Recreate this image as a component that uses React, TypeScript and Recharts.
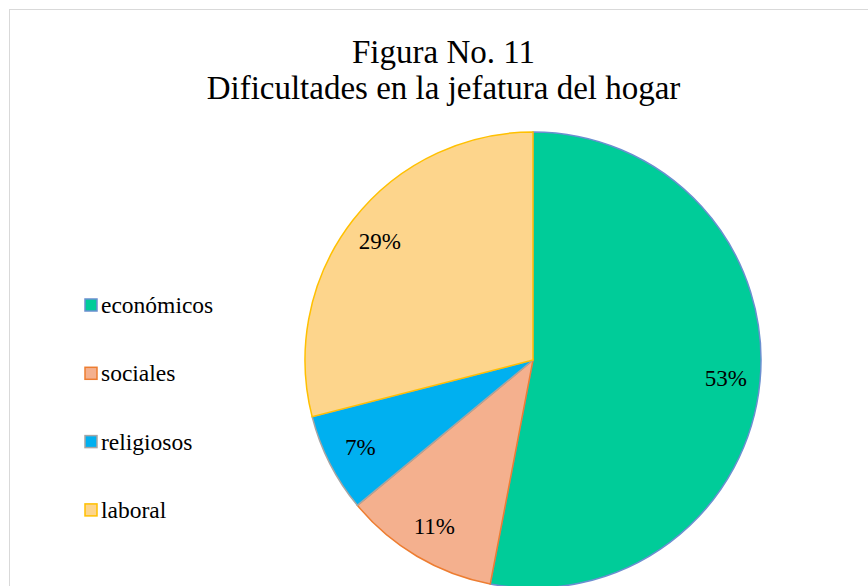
import React from "react";
import { PieChart, Pie, Cell, Legend } from "recharts";

const categories = ["económicos", "sociales", "religiosos", "laboral"];
const values = [53, 11, 7, 29];
const fills = ["#00CC99", "#F4B08E", "#00B0F0", "#FDD58C"];
const strokes = ["#6A8FD0", "#ED7D31", "#A5A5A5", "#FFC000"];
const titleLines = ["Figura No. 11", "Dificultades en la jefatura del hogar"];

const data = categories.map((name, i) => ({ name, value: values[i] }));
const FONT = "Liberation Serif";
const RAD = Math.PI / 180;

const renderLabel = (props: any) => {
  const { cx, cy, midAngle, outerRadius, percent } = props;
  const r = outerRadius * 0.85;
  const x = cx + r * Math.cos(-midAngle * RAD);
  const y = cy + r * Math.sin(-midAngle * RAD);
  return (
    <text
      x={x}
      y={y}
      textAnchor="middle"
      dominantBaseline="central"
      fill="#000"
      fontFamily={FONT}
      fontSize={23}
      style={{ fontFamily: FONT, fontSize: 23 }}
    >
      {`${Math.round(percent * 100)}%`}
    </text>
  );
};

const LegendContent = () => (
  <svg width={260} height={586} style={{ display: "block" }}>
    {categories.map((c, i) => {
      const yc = 305 + i * 68.3;
      return (
        <g key={c}>
          <rect
            x={85}
            y={yc - 6}
            width={12}
            height={12}
            fill={fills[i]}
            stroke={strokes[i]}
            strokeWidth={1.5}
          />
          <text
            x={101}
            y={yc + 8}
            fill="#000"
            fontFamily={FONT}
            fontSize={23.5}
            style={{ fontFamily: FONT, fontSize: 23.5 }}
          >
            {c}
          </text>
        </g>
      );
    })}
  </svg>
);

export default function App() {
  return (
    <div
      style={{
        position: "absolute",
        left: 0,
        top: 0,
        width: 868,
        height: 586,
        overflow: "hidden",
        background: "#fff",
      }}
    >
      <div
        style={{
          position: "absolute",
          left: 9,
          top: 9,
          width: 920,
          height: 700,
          border: "1.5px solid #D9D9D9",
          boxSizing: "border-box",
        }}
      />
      <div
        style={{
          position: "absolute",
          left: 0,
          top: 34,
          width: 887,
          textAlign: "center",
          fontFamily: FONT,
          fontSize: 33,
          lineHeight: "36px",
          color: "#000",
        }}
      >
        {titleLines.map((t) => (
          <div key={t}>{t}</div>
        ))}
      </div>
      <div style={{ position: "absolute", left: 0, top: 0 }}>
        <PieChart width={868} height={586} margin={{ top: 0, right: 0, bottom: 0, left: 0 }}>
          <Pie
            data={data}
            dataKey="value"
            nameKey="name"
            cx={533}
            cy={360}
            outerRadius={228}
            startAngle={90}
            endAngle={-270}
            isAnimationActive={false}
            label={renderLabel}
            labelLine={false}
          >
            {data.map((d, i) => (
              <Cell key={d.name} fill={fills[i]} stroke={strokes[i]} strokeWidth={1.5} />
            ))}
          </Pie>
          <Legend
            content={<LegendContent />}
            wrapperStyle={{ position: "absolute", left: 0, top: 0, width: 260, height: 586 }}
          />
        </PieChart>
      </div>
    </div>
  );
}
